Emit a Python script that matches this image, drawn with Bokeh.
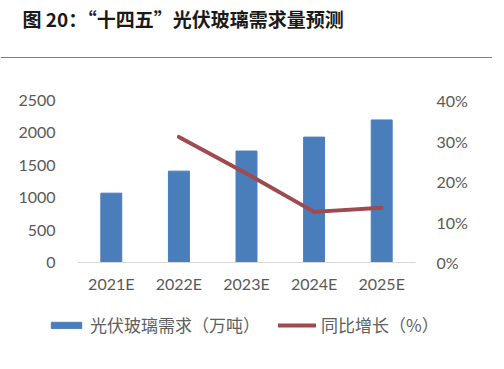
from bokeh.plotting import figure
from bokeh.models import (Range1d, LinearAxis, Legend, LegendItem, Label,
                          FixedTicker, CustomJSTickFormatter, FactorRange)
from bokeh.embed import file_html
from bokeh.resources import INLINE

years = ["2021E", "2022E", "2023E", "2024E", "2025E"]
demand = [1070, 1410, 1720, 1935, 2200]          # 万吨
growth_years = ["2022E", "2023E", "2024E", "2025E"]
growth = [0.31, 0.22, 0.125, 0.135]              # 同比增长
left_ticks = [0, 500, 1000, 1500, 2000, 2500]
right_ticks = [0, 0.1, 0.2, 0.3, 0.4]
title_text = "图 20：“十四五”光伏玻璃需求量预测"

NUM_FONT = "Lato"
CJK_FONT = "Noto Sans CJK SC"
TXT = "#595959"

# layout in pixels (canvas == frame)
W, H = 492, 369
PL, PR, PT, PB = 77, 415, 100, 262      # plotting area edges
Y_MAX, P_MAX = 2500, 0.4
unit = (PR - PL) / len(years)
pad = PL / unit
y_per_px = Y_MAX / (PB - PT)
y_lo, y_hi = -(H - PB) * y_per_px, PB * y_per_px

p = figure(width=W, height=H, output_backend="svg", toolbar_location=None,
           x_range=FactorRange(*years, range_padding=pad, range_padding_units="absolute"),
           y_range=Range1d(y_lo, y_hi), min_border=0,
           outline_line_color=None, background_fill_color="white",
           border_fill_color="white")
p.grid.visible = False
p.extra_y_ranges = {"pct": Range1d(y_lo / Y_MAX * P_MAX, y_hi / Y_MAX * P_MAX)}

bars = p.vbar(x=years, top=demand, width=0.31, color="#4A7EBB")
line = p.line(x=growth_years, y=growth, y_range_name="pct", line_width=4,
              line_color="#9E4A4E", line_cap="round", line_join="round")

def px_x(px):
    return (px - PL) / unit

def px_y(py):
    return (PB - py) * y_per_px

p.add_layout(Label(x=px_x(22), y=px_y(18), text=title_text, text_font=CJK_FONT,
                   text_font_size="19px", text_font_style="bold", text_color="#1A1A1A",
                   text_baseline="middle", text_align="left"))
p.segment(x0=[px_x(0)], y0=[px_y(57)], x1=[px_x(W)], y1=[px_y(57)],
          line_color="#7F7F7F", line_width=1)

xa = p.xaxis[0]
xa.fixed_location = 0
xa.bounds = (0, len(years))
xa.axis_line_color = "#D9D9D9"
xa.major_tick_line_color = None
xa.minor_tick_line_color = None
xa.major_label_text_font = NUM_FONT
xa.major_label_text_font_size = "16px"
xa.major_label_text_color = TXT
xa.major_label_standoff = 5

ya = p.yaxis[0]
ya.fixed_location = 0
ya.ticker = FixedTicker(ticks=left_ticks)
ya.axis_line_color = None
ya.major_tick_line_color = None
ya.minor_tick_line_color = None
ya.major_label_text_font = NUM_FONT
ya.major_label_text_font_size = "16px"
ya.major_label_text_color = TXT
ya.major_label_standoff = 16

ra = LinearAxis(y_range_name="pct", ticker=FixedTicker(ticks=right_ticks),
                formatter=CustomJSTickFormatter(code="return Math.round(tick*100) + '%';"),
                fixed_location=len(years))
ra.axis_line_color = None
ra.major_tick_line_color = None
ra.minor_tick_line_color = None
ra.major_label_text_font = NUM_FONT
ra.major_label_text_font_size = "16px"
ra.major_label_text_color = TXT
ra.major_label_standoff = 15
p.add_layout(ra, "right")

legend = Legend(items=[LegendItem(label="光伏玻璃需求（万吨）", renderers=[bars]),
                       LegendItem(label="同比增长（%）", renderers=[line])],
                orientation="horizontal", location=(47, 32),
                glyph_width=38, glyph_height=8, label_standoff=5, spacing=18,
                padding=0, margin=0, border_line_color=None, background_fill_alpha=0,
                label_text_font=CJK_FONT, label_text_font_size="17px",
                label_text_color="#606060")
p.add_layout(legend)

open("out.html", "w").write(file_html(p, INLINE))
